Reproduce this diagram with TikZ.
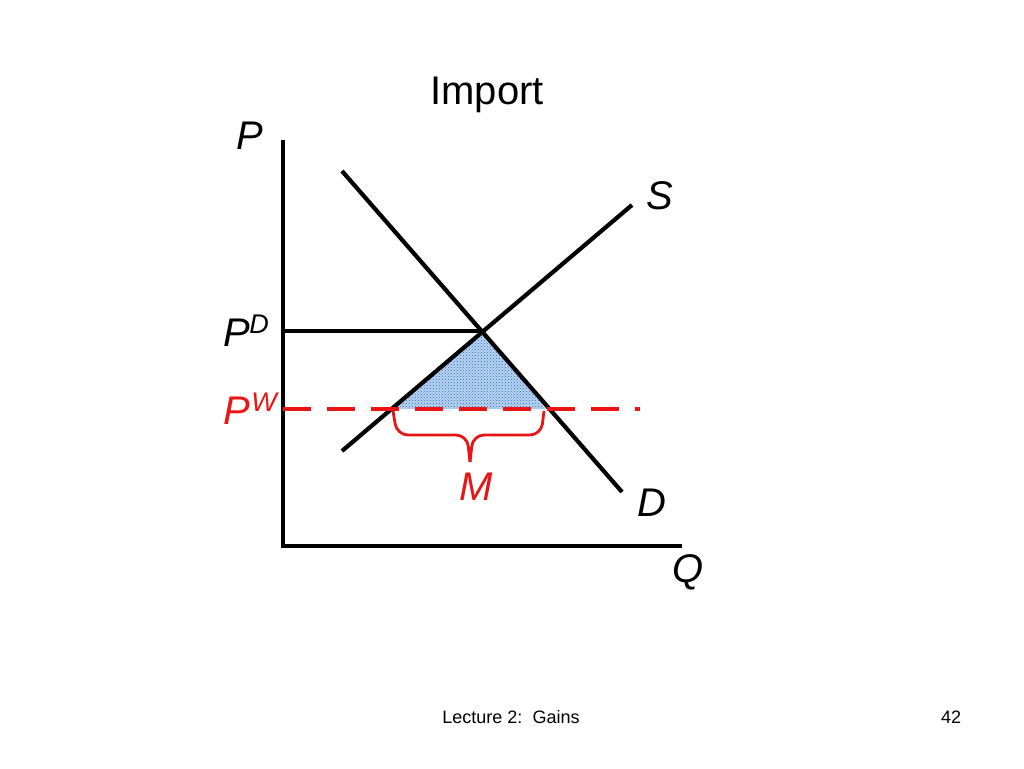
\documentclass[tikz,border=0pt]{standalone}
\usepackage{fontspec}
\setmainfont{Liberation Sans}
\usetikzlibrary{patterns}
\definecolor{dotblue}{RGB}{30,110,200}
\definecolor{myred}{RGB}{235,20,20}
\begin{document}
\begin{tikzpicture}[x=1pt,y=-1pt,
  curve/.style={line width=4.2pt},
  lab/.style={font=\fontsize{40}{40}\selectfont\itshape},
  sup/.style={font=\fontsize{27}{27}\selectfont\itshape},
  redc/.style={color=myred}]
\useasboundingbox (0,0) rectangle (1024,768);
\coordinate (O) at (283,546);
\coordinate (Ptop) at (283,140);
\coordinate (Qend) at (682,546);
\coordinate (S0) at (342,451);
\coordinate (S1) at (632,205);
\coordinate (D0) at (342,171);
\coordinate (D1) at (622,492);
\coordinate (E) at (482,331);
\coordinate (PDa) at (283,331);
\coordinate (PWa) at (283,409);
\coordinate (PWb) at (640,409);
\coordinate (A) at (391,409);
\coordinate (B) at (546,409);
\fill[dotblue, opacity=0.3] (A) -- (E) -- (B) -- cycle;
\fill[pattern=crosshatch dots, pattern color=dotblue] (A) -- (E) -- (B) -- cycle;
\draw[curve] (Ptop) -- (O) -- (Qend);
\draw[curve] (S0) -- (S1);
\draw[curve] (D0) -- (D1);
\draw[line width=3.2pt] (PDa) -- (E);
\draw[redc, line width=4.2pt, dash pattern=on 28pt off 16pt] (PWa) -- (PWb);
\draw[redc, line width=2.8pt, rounded corners=11pt] (393,411) -- (397,435) -- (467,435) -- (470,462);
\draw[redc, line width=2.8pt, rounded corners=11pt] (544,411) -- (541,435) -- (473,435) -- (470,462);
\node[lab] (P) at (250,136) {P};
\node[lab] (S) at (660,196) {S};
\node[lab] (PD) at (237,333) {P};
\node[sup] at (259,324) {D};
\node[lab,redc] (PW) at (237,411) {P};
\node[sup,redc] at (264,402) {W};
\node[lab,redc] (M) at (476,487) {M};
\node[lab] (D) at (652,503) {D};
\node[lab] (Q) at (688,572) {Q};
\node[font=\fontsize{40}{40}\selectfont] (T) at (487,95) {Import};
\node[font=\fontsize{18}{18}\selectfont] (F) at (511,717) {Lecture 2:\ \ Gains};
\node[font=\fontsize{18}{18}\selectfont] (N) at (951,717) {42};
\end{tikzpicture}
\end{document}
